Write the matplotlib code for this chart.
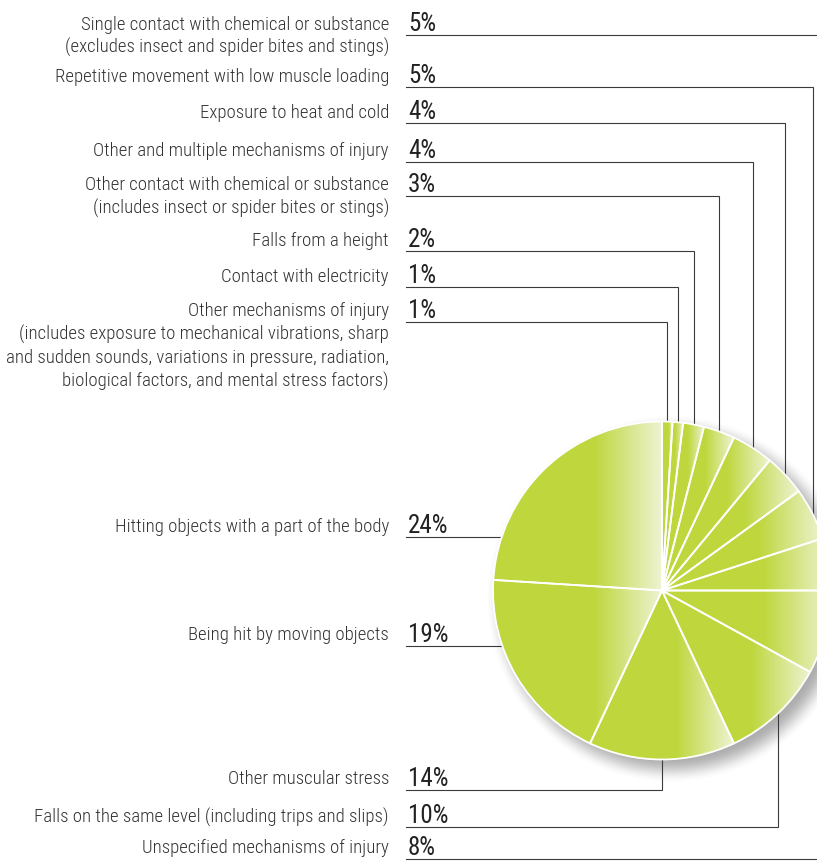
import numpy as np
import matplotlib
matplotlib.use('Agg')
from matplotlib import pyplot as plt
from matplotlib.colors import to_rgb

plt.rcParams['font.family'] = ['Roboto Condensed', 'DejaVu Sans']

# slices in pie order, clockwise from 12 o'clock
labels = [
    'Other mechanisms of injury\n(includes exposure to mechanical vibrations, sharp\n'
    'and sudden sounds, variations in pressure, radiation,\nbiological factors, and mental stress factors)',
    'Contact with electricity',
    'Falls from a height',
    'Other contact with chemical or substance\n(includes insect or spider bites or stings)',
    'Other and multiple mechanisms of injury',
    'Exposure to heat and cold',
    'Repetitive movement with low muscle loading',
    'Single contact with chemical or substance\n(excludes insect and spider bites and stings)',
    'Unspecified mechanisms of injury',
    'Falls on the same level (including trips and slips)',
    'Other muscular stress',
    'Being hit by moving objects',
    'Hitting objects with a part of the body',
]
shares = [1, 1, 2, 3, 4, 4, 5, 5, 8, 10, 14, 19, 24]
sides = ['top'] * 8 + ['bottom'] * 3 + ['left'] * 2

# layout (pixel coordinates, y measured from the top)
W, H = 817, 862
underline_y = [323, 288, 252, 197, 163, 124, 88, 36, 860, 828, 791, 647, 538]
cx, cy, r = 662, 591.5, 169
label_x, pct_x, line_x0 = 389, 408, 406

solid = np.array(to_rgb('#bfd73d'))
pale = np.array(to_rgb('#eef3d2'))
line_col = '#3a3a3a'

fig = plt.figure(figsize=(W / 100, H / 100), dpi=100)
ax = fig.add_axes([0, 0, 1, 1])

def Y(p):
    return H - p

# soft drop shadow
gx = np.linspace(cx - r - 40, cx + r + 40, 300)
gy = np.linspace(Y(cy) - r - 40, Y(cy) + r + 40, 300)
XX, YY = np.meshgrid(gx, gy)
d = np.hypot(XX - (cx + 8), YY - (Y(cy) - 8))
t = np.clip((d - (r - 10)) / 26, 0, 1)
alpha = 0.55 * (1 - t * t * (3 - 2 * t))
shadow = np.zeros(XX.shape + (4,))
shadow[..., :3] = 0.42
shadow[..., 3] = alpha
ax.imshow(shadow, extent=(gx[0], gx[-1], gy[0], gy[-1]), origin='lower',
          aspect='auto', zorder=1, interpolation='bilinear')

# leader lines and texts
for lab, v, side, uy, cum in zip(labels, shares, sides, underline_y,
                                 np.cumsum(shares) - np.array(shares) / 2):
    mid = np.deg2rad(90 - 360 * cum / 100)
    if side == 'left':
        ax.plot([line_x0, cx], [Y(uy), Y(uy)], color=line_col, lw=0.8, zorder=2)
    else:
        lx = cx + r * np.cos(mid)
        ax.plot([line_x0, lx, lx], [Y(uy), Y(uy), Y(cy)], color=line_col, lw=0.8,
                zorder=2, solid_joinstyle='miter')
    ax.text(label_x, Y(uy - 20.5), lab, ha='right', va='top', fontsize=13.5,
            fontweight='light', color='#333333', linespacing=1.32)
    ax.text(pct_x, Y(uy - 5), f'{v}%', ha='left', va='baseline', fontsize=18,
            color='#222222')

# pie
wedges, _ = ax.pie(shares, startangle=90, counterclock=False, center=(cx, Y(cy)),
                   radius=r, frame=True,
                   wedgeprops=dict(facecolor='none', edgecolor='white', linewidth=1.3))
ramp = np.linspace(0, 1, 256)
k = np.clip((ramp - 0.6) / 0.4, 0, 1)
grad = (solid[None, :] * (1 - k[:, None]) + pale[None, :] * k[:, None])[None, :, :]
for w in wedges:
    th = np.deg2rad(np.linspace(w.theta1, w.theta2, 200))
    xs = np.concatenate([[cx], cx + r * np.cos(th)])
    ys = np.concatenate([[Y(cy)], Y(cy) + r * np.sin(th)])
    im = ax.imshow(grad, extent=(xs.min(), xs.max(), ys.min(), ys.max()),
                   aspect='auto', zorder=3, interpolation='bilinear')
    im.set_clip_path(w)
    w.set_zorder(4)

ax.set_xlim(0, W)
ax.set_ylim(0, H)
ax.set_aspect('auto')
ax.axis('off')

fig.savefig('out.png', dpi=100)
